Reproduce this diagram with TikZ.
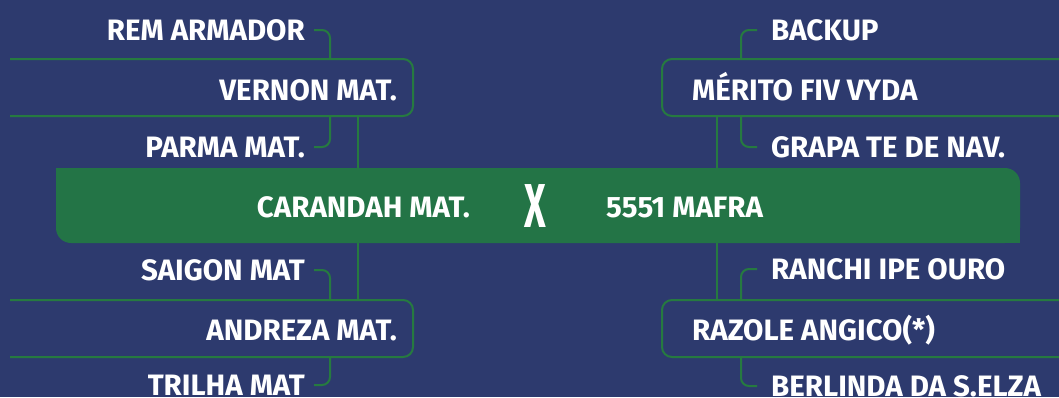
\documentclass[tikz,border=0pt]{standalone}
\usepackage{fontspec}
\setmainfont{Fira Sans}
\definecolor{bg}{RGB}{45,58,110}
\definecolor{bargreen}{RGB}{35,116,70}
\definecolor{linegreen}{RGB}{38,122,64}
\tikzset{
  lbl/.style={text=white, font=\fontsize{29.5}{29.5}\selectfont\bfseries, inner sep=0pt, text height=20pt, text depth=0pt},
  conn/.style={draw=linegreen, line width=2pt, rounded corners=8pt},
  boxline/.style={draw=linegreen, line width=2pt, rounded corners=10pt},
  frame/.style={inner sep=0pt, outer sep=0pt, draw=none}
}
\begin{document}
\begin{tikzpicture}[x=1pt,y=-1pt]
\fill[bg] (0,0) rectangle (1059,397);
\useasboundingbox (0,0) rectangle (1059,397);

% helper coordinates
\coordinate (lspine) at (358,0);
\coordinate (lstub) at (330,0);
\coordinate (rspine) at (717,0);
\coordinate (rstub) at (741,0);

% frames of the boxes
\node[frame, minimum width=403pt, minimum height=57pt] (vbox) at (211.5,87.5) {};
\node[frame, minimum width=403pt, minimum height=57pt] (abox) at (211.5,328.5) {};
\node[frame, minimum width=408pt, minimum height=57pt] (mbox) at (866,87.5) {};
\node[frame, minimum width=408pt, minimum height=57pt] (rbox) at (866,328.5) {};
\node[frame, minimum width=964pt, minimum height=75pt] (bar) at (538,205.5) {};

% spines
\draw[conn] (vbox.south -| lspine) -- (abox.north -| lspine);
\draw[conn] (mbox.south -| rspine) -- (rbox.north -| rspine);

% central bar
\fill[bargreen, rounded corners=15pt] (bar.north west) rectangle (bar.south east);
\fill[bargreen] (bar.north west) rectangle ++(20,20);
\fill[bargreen] (bar.south east) rectangle ++(-20,-20);

% boxes (open on the outer side)
\draw[boxline] (vbox.north west) -- (vbox.north east) -- (vbox.south east) -- (vbox.south west);
\draw[boxline] (abox.north west) -- (abox.north east) -- (abox.south east) -- (abox.south west);
\draw[boxline] (mbox.north east) -- (mbox.north west) -- (mbox.south west) -- (mbox.south east);
\draw[boxline] (rbox.north east) -- (rbox.north west) -- (rbox.south west) -- (rbox.south east);

% left labels
\node[lbl, anchor=east] (rem) at (305,30) {REM ARMADOR};
\node[lbl, anchor=east] (vernon) at (397,90) {VERNON MAT.};
\node[lbl, anchor=east] (parma) at (305,147) {PARMA MAT.};
\node[lbl, anchor=east] (saigon) at (305,270) {SAIGON MAT};
\node[lbl, anchor=east] (andreza) at (397,330) {ANDREZA MAT.};
\node[lbl, anchor=east] (trilha) at (305,385) {TRILHA MAT};

% right labels
\node[lbl, anchor=west] (backup) at (771,30) {BACKUP};
\node[lbl, anchor=west] (merito) at (692,90) {MÉRITO FIV VYDA};
\node[lbl, anchor=west] (grapa) at (771,147) {GRAPA TE DE NAV.};
\node[lbl, anchor=west] (ranchi) at (771,269) {RANCHI IPE OURO};
\node[lbl, anchor=west] (razole) at (692,330) {RAZOLE ANGICO(*)};
\node[lbl, anchor=west] (berlinda) at (771,386) {BERLINDA DA S.ELZA};

% bar labels
\node[lbl, anchor=east] (carandah) at (470,207) {CARANDAH MAT.};
\node[text=white, inner sep=0pt, font=\fontsize{62}{62}\selectfont\bfseries] (vs) at (535,206) {\scalebox{0.6}[1]{X}};
\node[lbl, anchor=west] (mafra) at (606,207) {5551 MAFRA};

% connectors
\draw[conn] ([xshift=9pt]rem.east) -| (vbox.north -| lstub);
\draw[conn] (vbox.south -| lstub) |- ([xshift=9pt]parma.east);
\draw[conn] ([xshift=9pt]saigon.east) -| (abox.north -| lstub);
\draw[conn] (abox.south -| lstub) |- ([xshift=9pt]trilha.east);
\draw[conn] ([xshift=-14pt]backup.west) -| (mbox.north -| rstub);
\draw[conn] (mbox.south -| rstub) |- ([xshift=-14pt]grapa.west);
\draw[conn] ([xshift=-14pt]ranchi.west) -| (rbox.north -| rstub);
\draw[conn] (rbox.south -| rstub) |- ([xshift=-14pt]berlinda.west);
\end{tikzpicture}
\end{document}
